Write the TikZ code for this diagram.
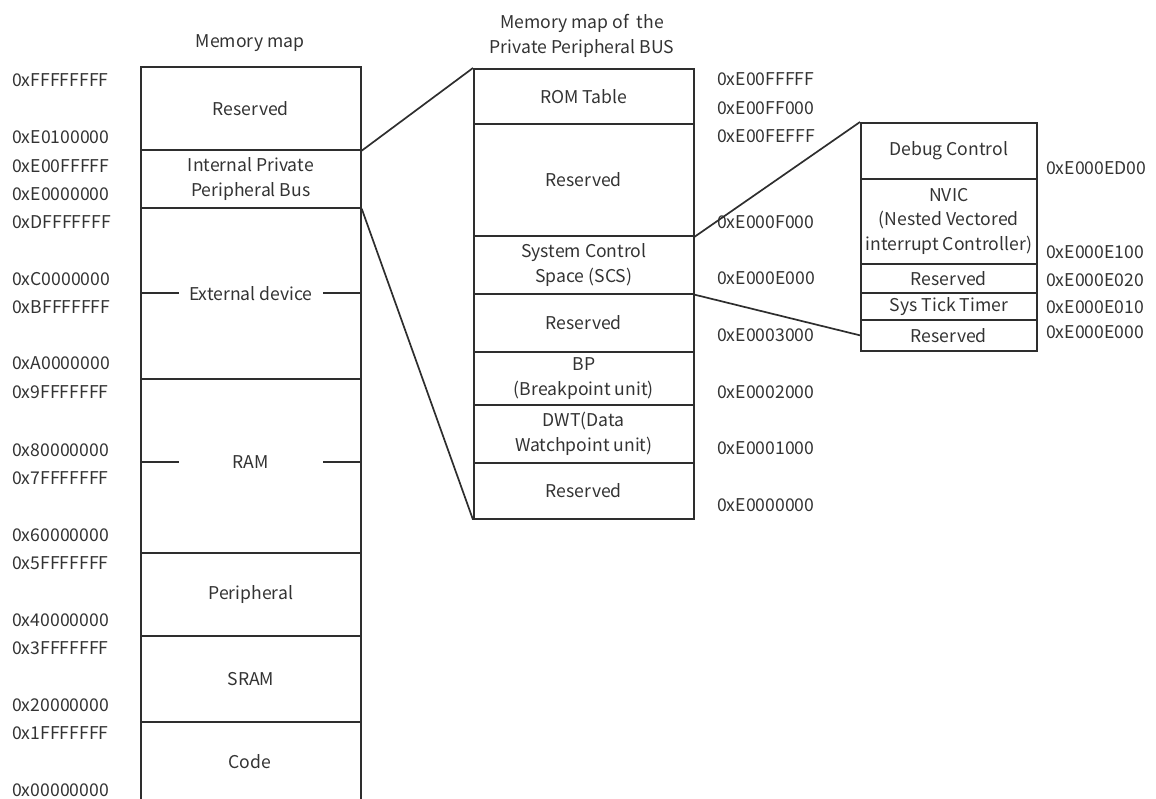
\documentclass[tikz,border=0pt]{standalone}
\usepackage{fontspec}
\setmainfont{Noto Sans CJK KR}
\definecolor{ink}{HTML}{2E2E2E}
\definecolor{txt}{HTML}{333333}
\newcommand\mapfont{\fontsize{17.6}{24.5}\selectfont}
\begin{document}
\begin{tikzpicture}[x=1pt,y=-1pt,
  cell/.style={draw=ink, line width=1.7pt, anchor=north west, inner sep=0pt,
               align=center, font=\mapfont, text=txt},
  addr/.style={anchor=west, inner sep=0pt, font=\mapfont, text=txt},
  ttl/.style={inner sep=0pt, align=center, font=\mapfont, text=txt},
  conn/.style={draw=ink, line width=1.7pt}]
\useasboundingbox (0,0) rectangle (1156,799);

% ---------- full memory map ----------
\node[ttl] (t1) at (250,43) {Memory map};
\node[cell, minimum width=220, minimum height=83]  (lres)  at (140,66)  {Reserved};
\node[cell, minimum width=220, minimum height=58]  (lppb)  at (140,149) {Internal Private\\Peripheral Bus};
\node[cell, minimum width=220, minimum height=171] (lext)  at (140,207) {};
\node[cell, minimum width=220, minimum height=174] (lram)  at (140,378) {};
\node[cell, minimum width=220, minimum height=83]  (lper)  at (140,552) {Peripheral};
\node[cell, minimum width=220, minimum height=86]  (lsram) at (140,635) {SRAM};
\node[cell, minimum width=220, minimum height=95]  (lcode) at (140,721) {};
\node[ttl] (lcodet) at (250,762) {Code};

\draw[conn] (lext.west) -- (lext.east);
\node[ttl, fill=white, inner xsep=10pt] (lextt) at (lext.center) {External device};
\draw[conn] ([yshift=4pt]lram.west) -- ([yshift=4pt]lram.east);
\node[ttl, fill=white, inner xsep=54pt] (lramt) at ([yshift=4pt]lram.center) {RAM};

\node[addr] (a01) at (12,80)  {0xFFFFFFFF};
\node[addr] (a02) at (12,137) {0xE0100000};
\node[addr] (a03) at (12,166) {0xE00FFFFF};
\node[addr] (a04) at (12,194) {0xE0000000};
\node[addr] (a05) at (12,222) {0xDFFFFFFF};
\node[addr] (a06) at (12,279) {0xC0000000};
\node[addr] (a07) at (12,307) {0xBFFFFFFF};
\node[addr] (a08) at (12,363) {0xA0000000};
\node[addr] (a09) at (12,392) {0x9FFFFFFF};
\node[addr] (a10) at (12,450) {0x80000000};
\node[addr] (a11) at (12,478) {0x7FFFFFFF};
\node[addr] (a12) at (12,535) {0x60000000};
\node[addr] (a13) at (12,563) {0x5FFFFFFF};
\node[addr] (a14) at (12,620) {0x40000000};
\node[addr] (a15) at (12,648) {0x3FFFFFFF};
\node[addr] (a16) at (12,705) {0x20000000};
\node[addr] (a17) at (12,733) {0x1FFFFFFF};
\node[addr] (a18) at (12,790) {0x00000000};

% ---------- private peripheral bus ----------
\node[ttl] (t2) at (582,36) {Memory map of\ \ the\\Private Peripheral BUS};
\node[cell, minimum width=220, minimum height=55]  (rom)   at (473,68)  {ROM Table};
\node[cell, minimum width=220, minimum height=112] (mres1) at (473,123) {Reserved};
\node[cell, minimum width=220, minimum height=58]  (scs)   at (473,235) {System Control\\Space (SCS)};
\node[cell, minimum width=220, minimum height=58]  (mres2) at (473,293) {Reserved};
\node[cell, minimum width=220, minimum height=53]  (bp)    at (473,351) {BP\\(Breakpoint unit)};
\node[cell, minimum width=220, minimum height=58]  (dwt)   at (473,404) {DWT(Data\\Watchpoint unit)};
\node[cell, minimum width=220, minimum height=56]  (mres3) at (473,462) {Reserved};

\node[addr] (b01) at (717,79)  {0xE00FFFFF};
\node[addr] (b02) at (717,108) {0xE00FF000};
\node[addr] (b03) at (717,136) {0xE00FEFFF};
\node[addr] (b04) at (717,222) {0xE000F000};
\node[addr] (b05) at (717,278) {0xE000E000};
\node[addr] (b06) at (717,335) {0xE0003000};
\node[addr] (b07) at (717,392) {0xE0002000};
\node[addr] (b08) at (717,448) {0xE0001000};
\node[addr] (b09) at (717,505) {0xE0000000};

% ---------- system control space ----------
\node[cell, minimum width=176, minimum height=56] (dbg)   at (860,122) {Debug Control};
\node[cell, minimum width=176, minimum height=85] (nvic)  at (860,178) {NVIC\\(Nested Vectored\\interrupt Controller)};
\node[cell, minimum width=176, minimum height=29] (rres1) at (860,263) {Reserved};
\node[cell, minimum width=176, minimum height=27] (tick)  at (860,292) {Sys Tick Timer};
\node[cell, minimum width=176, minimum height=31] (rres2) at (860,319) {Reserved};

\node[addr] (c01) at (1046,168) {0xE000ED00};
\node[addr] (c02) at (1046,252) {0xE000E100};
\node[addr] (c03) at (1046,280) {0xE000E020};
\node[addr] (c04) at (1046,307) {0xE000E010};
\node[addr] (c05) at (1046,332) {0xE000E000};

% ---------- zoom connectors ----------
\draw[conn] (lres.south east) -- (rom.north west);
\draw[conn] (lppb.south east) -- (mres3.south west);
\draw[conn] (mres1.south east) -- (dbg.north west);
\draw[conn] (scs.south east) -- (rres2.west);
\end{tikzpicture}
\end{document}
